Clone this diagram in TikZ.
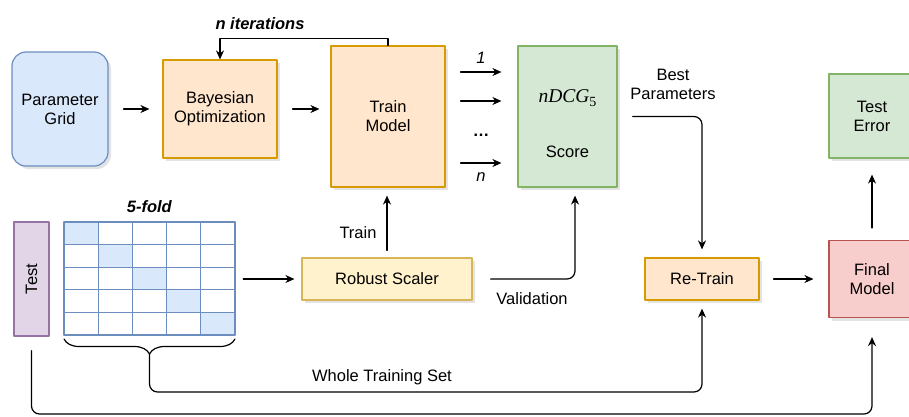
\documentclass[tikz,border=0pt]{standalone}
\usepackage{fontspec}
\setmainfont{Liberation Sans}
\newfontfamily\serifmat{Liberation Serif}
\usepackage{amsmath}
\usepackage{xcolor}
\usepackage{tikz}
\usetikzlibrary{arrows.meta,decorations.pathreplacing,shadows}

% Colori
\definecolor{bluFill}{HTML}{DAE8FC}
\definecolor{bluLine}{HTML}{6C8EBF}
\definecolor{aranFill}{HTML}{FFE6CC}
\definecolor{aranLine}{HTML}{D79B00}
\definecolor{verdeFill}{HTML}{D5E8D4}
\definecolor{verdeLine}{HTML}{82B366}
\definecolor{gialloFill}{HTML}{FFF2CC}
\definecolor{gialloLine}{HTML}{D6B656}
\definecolor{rossoFill}{HTML}{F8CECC}
\definecolor{rossoLine}{HTML}{B85450}
\definecolor{violaFill}{HTML}{E1D5E7}
\definecolor{violaLine}{HTML}{9673A6}

\begin{document}
\begin{tikzpicture}[
    x=1pt,
    y=-1pt,
    >={Stealth[length=9pt,width=8pt]},
    line cap=round,
    line join=round,
    testo/.style={font=\fontsize{16.5}{19}\selectfont, align=center},
    blocco/.style={draw, line width=1.2pt, testo, inner sep=0pt,
        drop shadow={shadow xshift=3pt, shadow yshift=-3pt, fill=black!22}},
    freccia/.style={->, line width=1.2pt}
]

% Area visibile
\useasboundingbox (0,0) rectangle (909,416);
\clip (0,0) rectangle (909,416);

% Parametri della griglia 5-fold
\def\cw{34.2}
\def\ch{22.6}
\def\gx{64}
\def\gy{222}

% Blocchi in alto
\node[blocco, fill=bluFill, draw=bluLine, rounded corners=14pt,
    minimum width=96, minimum height=114] (griglia) at (60,109) {Parameter\\Grid};
\node[blocco, fill=aranFill, draw=aranLine,
    minimum width=114, minimum height=98] (bayes) at (220,109) {Bayesian\\Optimization};
\node[blocco, fill=aranFill, draw=aranLine,
    minimum width=114, minimum height=141] (train) at (388,116.5) {Train\\Model};
\node[blocco, fill=verdeFill, draw=verdeLine,
    minimum width=99, minimum height=141] (score) at (567.5,116.5) {};
\node (ndcg) at (567.5,98) {\fontsize{19.5}{21}\serifmat\itshape nDCG\raisebox{-3.5pt}{\fontsize{14}{14}\selectfont\upshape 5}};
\node[testo] (scoretxt) at (567.5,152) {Score};
\node[blocco, fill=verdeFill, draw=verdeLine,
    minimum width=86, minimum height=84] (testerr) at (872,116) {Test\\Error};

% Blocchi in basso
\node[blocco, fill=gialloFill, draw=gialloLine,
    minimum width=170, minimum height=42] (scaler) at (387,279) {Robust Scaler};
\node[blocco, fill=aranFill, draw=aranLine,
    minimum width=114, minimum height=42] (retrain) at (702,279) {Re-Train};
\node[blocco, fill=rossoFill, draw=rossoLine,
    minimum width=86, minimum height=77] (final) at (872,279) {Final\\Model};
\node[draw=violaLine, fill=violaFill, line width=1.2pt, testo, inner sep=0pt,
    minimum width=35, minimum height=114] (test) at (31.5,279) {\rotatebox{90}{Test}};

% Griglia dei fold
\node[minimum width=171, minimum height=113, inner sep=0pt] (folds) at (149.5,279) {};
\foreach \i in {0,...,4}
    \fill[bluFill] (\gx+\i*\cw,\gy+\i*\ch) rectangle ++(\cw,\ch);
\foreach \i in {0,...,5} {
    \draw[bluLine,line width=1.2pt] (\gx+\i*\cw,\gy) -- (\gx+\i*\cw,\gy+5*\ch);
    \draw[bluLine,line width=1.2pt] (\gx,\gy+\i*\ch) -- (\gx+5*\cw,\gy+\i*\ch);
}
\node[testo] (fold) at (149.5,207) {\textbf{\textit{5-fold}}};

% Parentesi graffa sotto i fold
\draw[decorate, decoration={brace, mirror, amplitude=15pt}, line width=1.2pt]
    (\gx,339) -- (\gx+5*\cw,339);
\coordinate (punta) at (149.5,354);
\coordinate (sotto) at (0,392);
\coordinate (fondo) at (0,414);

% Frecce in alto
\draw[freccia, shorten <=15pt, shorten >=13pt] (griglia) -- (bayes);
\draw[freccia, shorten <=15pt, shorten >=11pt] (bayes.east) -- (bayes.east -| train.west);
\draw[freccia] (train.north) -- ++(0,-7) -| (bayes.north);
\node[testo] (iter) at (260,24) {\textbf{\textit{n iterations}}};

\foreach \yy in {72,101,163}
    \draw[freccia, shorten <=15pt, shorten >=16pt] (train.east |- 0,\yy) -- (score.west |- 0,\yy);
\node[testo] (uno) at (481,58) {\textit{1}};
\node[testo] (enne) at (481,177) {\textit{n}};
\node[testo] (puntini) at (481,135) {\textbf{\dots}};

\draw[freccia, rounded corners=8pt, shorten <=15pt, shorten >=8pt]
    (score.east) -| (retrain.north);
\node[testo] (best) at (673,84.5) {Best\\Parameters};

% Frecce in basso
\draw[freccia, shorten <=8pt, shorten >=7pt] (folds.east) -- (scaler.west);
\draw[freccia, shorten <=7pt, shorten >=8pt] (scaler.north) -- (scaler.north |- train.south);
\node[testo] (trainlbl) at (358,233) {Train};

\draw[freccia, rounded corners=8pt, shorten <=18pt, shorten >=8pt]
    (scaler.east) -| ([xshift=7.5pt]score.south);
\node[testo] (valid) at (532,299) {Validation};

\draw[freccia, shorten <=14pt, shorten >=15pt] (retrain.east) -- (final.west);
\draw[freccia, shorten <=12pt, shorten >=16pt] (final.north) -- (testerr.south);

\draw[freccia, rounded corners=8pt, shorten >=8pt]
    (punta) |- (retrain.south |- sotto) -- (retrain.south);
\node[testo] (whole) at (382,377) {Whole Training Set};

\draw[freccia, rounded corners=8pt, shorten <=14pt, shorten >=19pt]
    (test.south) |- (final.south |- fondo) -- (final.south);

\end{tikzpicture}
\end{document}
